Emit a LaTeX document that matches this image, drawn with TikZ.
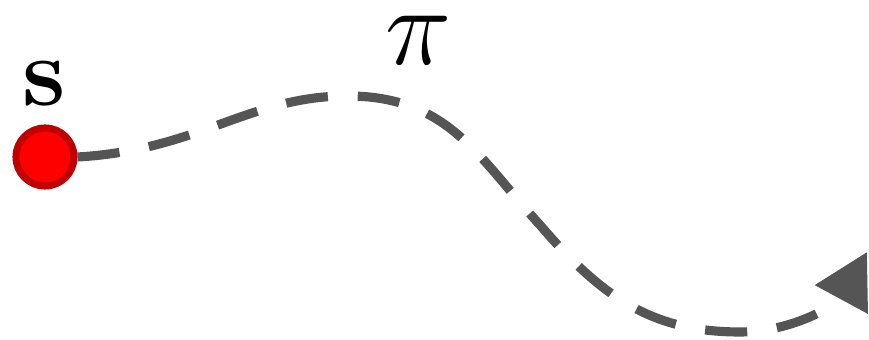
\documentclass[tikz,border=0pt]{standalone}
\usepackage{amsmath,amssymb}
\usepackage{xcolor}
\usetikzlibrary{arrows.meta,positioning}

\definecolor{pathgray}{HTML}{555555}
\definecolor{startred}{HTML}{FF0000}
\definecolor{startrim}{HTML}{C00000}

\begin{document}
\begin{tikzpicture}[
  x=0.01cm, y=-0.01cm,
  state/.style={circle, draw=startrim, fill=startred, line width=2pt, minimum size=0.58cm, inner sep=0pt},
  traj/.style={pathgray, line width=2.6pt, dash pattern=on 12pt off 8.5pt, -{Triangle[length=0.54cm, width=0.58cm]}},
  lbl/.style={inner sep=0pt, font=\Huge}
]
  \useasboundingbox (0,0) rectangle (869,340);
  \node[state] (s) at (45,157) {};
  \node[lbl, scale=1.12] (slabel) at (44,84) {$\mathbf{s}$};
  \node[lbl, scale=1.28] (pilabel) at (419,40) {$\pi$};
  \coordinate (goal) at (867,252);
  \draw[traj] (s.east) .. controls (200,150) and (250,95) .. (350,96)
    .. controls (450,97) and (480,160) .. (540,225)
    .. controls (600,295) and (650,332) .. (740,332)
    .. controls (795,332) and (840,302) .. (goal);
\end{tikzpicture}
\end{document}
